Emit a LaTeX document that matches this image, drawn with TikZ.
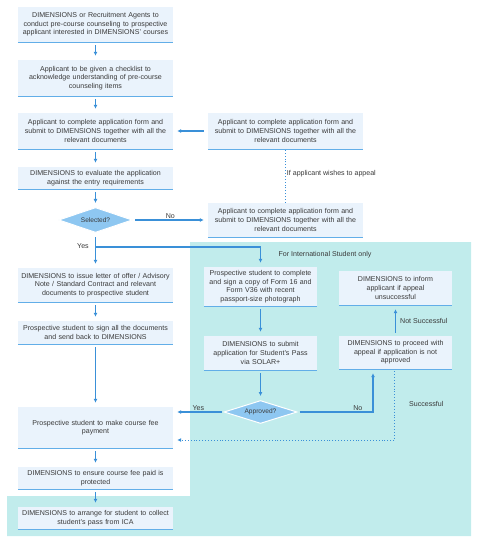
\documentclass[tikz,border=0pt]{standalone}
\usepackage{fontspec}
\setmainfont{Liberation Sans}
\usepackage{tikz}
\usetikzlibrary{arrows.meta,positioning,shapes.geometric,calc}
\definecolor{FlowBlue}{HTML}{3A90D8}
\definecolor{BoxFill}{HTML}{EAF3FC}
\definecolor{BoxRule}{HTML}{62AEE8}
\definecolor{DiaFill}{HTML}{8EC7F1}
\definecolor{IntlTeal}{HTML}{C1ECEC}
\definecolor{InkGrey}{HTML}{3A3A3A}
\tikzset{
  stepbox/.style={fill=BoxFill, text=InkGrey, align=center, inner xsep=3bp, inner ysep=0pt, font=\fontsize{7.1}{8.6}\selectfont},
  boxrule/.style={draw=BoxRule, line width=1.2bp},
  decision/.style={diamond, fill=DiaFill, draw=white, line width=1bp, inner sep=0pt, aspect=3, text=InkGrey, font=\fontsize{6.6}{7.5}\selectfont},
  flow/.style={draw=FlowBlue, line width=1.3bp, -{Latex[length=4bp,width=4bp]}, shorten >=4bp},
  dotflow/.style={draw=FlowBlue, line width=0.9bp, dotted},
  tag/.style={text=InkGrey, font=\fontsize{7.1}{8.6}\selectfont, inner sep=1bp}
}
\begin{document}
\begin{tikzpicture}[x=1bp, y=-1bp]
\useasboundingbox (0,0) rectangle (480,548);
% international student area
\fill[IntlTeal] (190,242) -- (471,242) -- (471,536) -- (7,536) -- (7,496) -- (190,496) -- cycle;
\node[tag] (intl) at (325,255) {For International Student only};
% main column
\foreach \name/\y/\h/\txt in {
  b1/24.5/35/{DIMENSIONS or Recruitment Agents to\\conduct pre-course counseling to prospective\\applicant interested in DIMENSIONS' courses},
  b2/78/36/{Applicant to be given a checklist to\\acknowledge understanding of pre-course\\counseling items},
  b3/131/36/{Applicant to complete application form and\\submit to DIMENSIONS together with all the\\relevant documents},
  b4/178/22/{DIMENSIONS to evaluate the application\\against the entry requirements},
  b6/332.5/23/{Prospective student to sign all the documents\\and send back to DIMENSIONS},
  b7/427.5/41/{Prospective student to make course fee\\payment},
  b8/478/22/{DIMENSIONS to ensure course fee paid is\\protected},
  b9/518/22/{DIMENSIONS to arrange for student to collect\\student's pass from ICA}}{
  \node[stepbox, text width=149bp, minimum height=\h*1bp] (\name) at (95.5,\y) {\txt};
}
\node[stepbox, text width=149bp, minimum height=34bp] (b5) at (95.5,285) {DIMENSIONS to issue letter of offer / Advisory\\Note / Standard Contract and relevant\\documents to prospective student};
% appeal boxes
\node[stepbox, text width=149bp, minimum height=36bp] (r1) at (285.5,131) {Applicant to complete application form and\\submit to DIMENSIONS together with all the\\relevant documents};
\node[stepbox, text width=149bp, minimum height=34bp] (r2) at (285.5,220) {Applicant to complete application form and\\submit to DIMENSIONS together with all the\\relevant documents};
% international boxes
\node[stepbox, text width=107bp, minimum height=39bp] (i1) at (260.5,286.5) {Prospective student to complete\\and sign a copy of Form 16 and\\Form V36 with recent\\passport-size photograph};
\node[stepbox, text width=107bp, minimum height=34bp] (i2) at (260.5,353) {DIMENSIONS to submit\\application for Student's Pass\\via SOLAR+};
\node[stepbox, text width=107bp, minimum height=34bp] (inf) at (395.5,288) {DIMENSIONS to inform\\applicant if appeal\\unsuccessful};
\node[stepbox, text width=107bp, minimum height=33bp] (proc) at (395.5,352.5) {DIMENSIONS to proceed with\\appeal if application is not\\approved};
\foreach \n in {b1,b2,b3,b4,b5,b6,b7,b8,b9,r1,r2,i1,i2,inf,proc}{
  \draw[boxrule] (\n.south west) -- (\n.south east);
}
% decisions
\node[decision, minimum width=74bp, minimum height=25bp] (sel) at (95.5,220) {Selected?};
\node[decision, minimum width=73bp, minimum height=23bp] (appr) at (260.5,412) {Approved?};
% connectors
\foreach \a/\b in {b1/b2,b2/b3,b3/b4,b4/sel,b5/b6,b6/b7,b7/b8,b8/b9,i1/i2,i2/appr}{
  \draw[flow, shorten <=3bp] (\a) -- (\b);
}
\draw[flow, shorten <=4bp] (r1.west) -- (b3.east);
\draw[flow, shorten <=2bp] (sel.east) -- node[tag, above] (no1) {No} (r2.west);
\draw[dotflow, -] (r2.north) -- node[tag, right, pos=0.55] (appeal) {If applicant wishes to appeal} (r1.south);
\coordinate (yesj) at (95.5,247);
\draw[flow, shorten <=4bp] (sel.south) -- (b5.north);
\draw[flow] (yesj) -| (i1.north);
\node[tag] (yes1) at (83,246) {Yes};
\draw[flow, shorten <=2bp] (appr.west) -- node[tag, above] (yes2) {Yes} (appr.west -| b7.east);
\draw[flow, shorten <=2bp] (appr.east) -| node[tag, above, pos=0.4] (no2) {No} ([xshift=-22.5bp]proc.south);
\draw[flow, shorten <=3bp] (proc.north) -- node[tag, right=3bp] (notok) {Not Successful} (inf.south);
\coordinate (succ) at (394,440);
\draw[dotflow, shorten <=2bp] (proc.south -| succ) -- (succ);
\draw[dotflow, -{Latex[length=4bp,width=4bp]}, shorten >=4bp] (succ) -- (succ -| b7.east);
\node[tag, anchor=west] (ok) at (408,404) {Successful};
\end{tikzpicture}
\end{document}
